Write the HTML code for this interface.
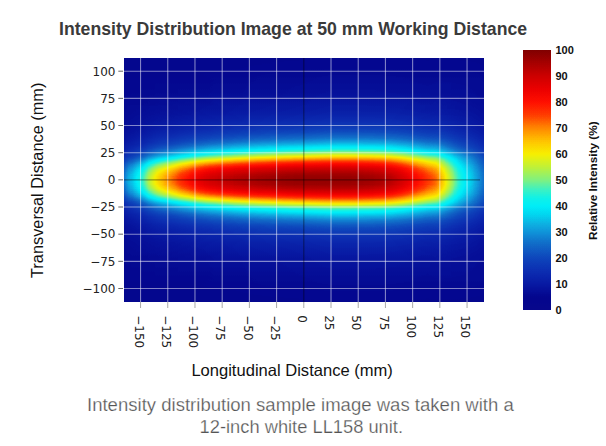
<!DOCTYPE html>
<html><head><meta charset="utf-8">
<style>
html,body{margin:0;padding:0;background:#fff;}
body{width:606px;height:446px;overflow:hidden;position:relative;}
svg{position:absolute;left:0;top:0;}
.t{font-family:"Liberation Sans",Arial,sans-serif;}
</style></head>
<body>
<svg width="606" height="446" viewBox="0 0 606 446">
<defs>
<linearGradient id="hx" gradientUnits="userSpaceOnUse" x1="124" y1="0" x2="484" y2="0"><stop offset="0.0014" stop-color="rgb(47,139,0)"/><stop offset="0.0069" stop-color="rgb(54,156,0)"/><stop offset="0.0125" stop-color="rgb(60,166,0)"/><stop offset="0.0181" stop-color="rgb(64,172,0)"/><stop offset="0.0236" stop-color="rgb(67,177,0)"/><stop offset="0.0292" stop-color="rgb(72,183,0)"/><stop offset="0.0347" stop-color="rgb(77,190,0)"/><stop offset="0.0403" stop-color="rgb(82,195,0)"/><stop offset="0.0458" stop-color="rgb(87,200,0)"/><stop offset="0.0514" stop-color="rgb(92,205,0)"/><stop offset="0.0569" stop-color="rgb(98,212,0)"/><stop offset="0.0625" stop-color="rgb(105,219,0)"/><stop offset="0.0681" stop-color="rgb(113,229,0)"/><stop offset="0.0736" stop-color="rgb(118,235,1)"/><stop offset="0.0792" stop-color="rgb(123,239,2)"/><stop offset="0.0847" stop-color="rgb(128,244,3)"/><stop offset="0.0903" stop-color="rgb(133,249,4)"/><stop offset="0.0958" stop-color="rgb(137,251,5)"/><stop offset="0.1014" stop-color="rgb(141,253,6)"/><stop offset="0.1069" stop-color="rgb(144,254,7)"/><stop offset="0.1125" stop-color="rgb(148,255,8)"/><stop offset="0.1181" stop-color="rgb(151,255,9)"/><stop offset="0.1236" stop-color="rgb(154,255,11)"/><stop offset="0.1292" stop-color="rgb(157,254,12)"/><stop offset="0.1347" stop-color="rgb(161,254,14)"/><stop offset="0.1403" stop-color="rgb(164,253,15)"/><stop offset="0.1458" stop-color="rgb(168,253,17)"/><stop offset="0.1514" stop-color="rgb(172,251,19)"/><stop offset="0.1569" stop-color="rgb(176,249,21)"/><stop offset="0.1625" stop-color="rgb(179,247,23)"/><stop offset="0.1681" stop-color="rgb(182,243,25)"/><stop offset="0.1736" stop-color="rgb(185,240,27)"/><stop offset="0.1792" stop-color="rgb(188,236,29)"/><stop offset="0.1847" stop-color="rgb(192,232,32)"/><stop offset="0.1903" stop-color="rgb(195,228,35)"/><stop offset="0.1958" stop-color="rgb(198,224,37)"/><stop offset="0.2014" stop-color="rgb(201,219,40)"/><stop offset="0.2069" stop-color="rgb(204,214,43)"/><stop offset="0.2125" stop-color="rgb(207,209,46)"/><stop offset="0.2181" stop-color="rgb(209,204,49)"/><stop offset="0.2236" stop-color="rgb(212,199,52)"/><stop offset="0.2292" stop-color="rgb(214,193,55)"/><stop offset="0.2347" stop-color="rgb(216,188,58)"/><stop offset="0.2403" stop-color="rgb(218,183,61)"/><stop offset="0.2458" stop-color="rgb(220,177,64)"/><stop offset="0.2514" stop-color="rgb(221,171,67)"/><stop offset="0.2569" stop-color="rgb(223,166,70)"/><stop offset="0.2625" stop-color="rgb(225,160,74)"/><stop offset="0.2681" stop-color="rgb(226,154,77)"/><stop offset="0.2736" stop-color="rgb(228,148,81)"/><stop offset="0.2792" stop-color="rgb(229,143,84)"/><stop offset="0.2847" stop-color="rgb(231,137,88)"/><stop offset="0.2903" stop-color="rgb(232,132,92)"/><stop offset="0.2958" stop-color="rgb(233,127,95)"/><stop offset="0.3014" stop-color="rgb(234,122,99)"/><stop offset="0.3069" stop-color="rgb(236,117,103)"/><stop offset="0.3125" stop-color="rgb(237,112,107)"/><stop offset="0.3181" stop-color="rgb(238,108,110)"/><stop offset="0.3236" stop-color="rgb(239,104,114)"/><stop offset="0.3292" stop-color="rgb(240,100,118)"/><stop offset="0.3347" stop-color="rgb(241,97,121)"/><stop offset="0.3403" stop-color="rgb(242,94,125)"/><stop offset="0.3458" stop-color="rgb(243,91,128)"/><stop offset="0.3514" stop-color="rgb(244,88,131)"/><stop offset="0.3569" stop-color="rgb(244,86,135)"/><stop offset="0.3625" stop-color="rgb(245,83,138)"/><stop offset="0.3681" stop-color="rgb(246,81,141)"/><stop offset="0.3736" stop-color="rgb(247,79,144)"/><stop offset="0.3792" stop-color="rgb(247,77,147)"/><stop offset="0.3847" stop-color="rgb(248,76,150)"/><stop offset="0.3903" stop-color="rgb(248,74,152)"/><stop offset="0.3958" stop-color="rgb(249,72,155)"/><stop offset="0.4014" stop-color="rgb(249,71,158)"/><stop offset="0.4069" stop-color="rgb(250,70,161)"/><stop offset="0.4125" stop-color="rgb(251,68,164)"/><stop offset="0.4181" stop-color="rgb(251,67,166)"/><stop offset="0.4236" stop-color="rgb(252,66,169)"/><stop offset="0.4292" stop-color="rgb(252,65,172)"/><stop offset="0.4347" stop-color="rgb(252,64,174)"/><stop offset="0.4403" stop-color="rgb(253,63,177)"/><stop offset="0.4458" stop-color="rgb(253,62,180)"/><stop offset="0.4514" stop-color="rgb(254,61,182)"/><stop offset="0.4569" stop-color="rgb(254,61,185)"/><stop offset="0.4625" stop-color="rgb(254,60,188)"/><stop offset="0.4681" stop-color="rgb(254,59,190)"/><stop offset="0.4736" stop-color="rgb(255,59,193)"/><stop offset="0.4792" stop-color="rgb(255,58,196)"/><stop offset="0.4847" stop-color="rgb(255,58,198)"/><stop offset="0.4903" stop-color="rgb(255,57,201)"/><stop offset="0.4958" stop-color="rgb(255,57,204)"/><stop offset="0.5014" stop-color="rgb(255,57,207)"/><stop offset="0.5069" stop-color="rgb(255,57,210)"/><stop offset="0.5125" stop-color="rgb(255,56,214)"/><stop offset="0.5181" stop-color="rgb(255,56,217)"/><stop offset="0.5236" stop-color="rgb(255,56,221)"/><stop offset="0.5292" stop-color="rgb(255,57,224)"/><stop offset="0.5347" stop-color="rgb(255,57,228)"/><stop offset="0.5403" stop-color="rgb(255,57,232)"/><stop offset="0.5458" stop-color="rgb(255,58,235)"/><stop offset="0.5514" stop-color="rgb(255,58,238)"/><stop offset="0.5569" stop-color="rgb(255,59,242)"/><stop offset="0.5625" stop-color="rgb(255,60,244)"/><stop offset="0.5681" stop-color="rgb(255,60,247)"/><stop offset="0.5736" stop-color="rgb(255,61,249)"/><stop offset="0.5792" stop-color="rgb(254,61,251)"/><stop offset="0.5847" stop-color="rgb(254,62,253)"/><stop offset="0.5903" stop-color="rgb(254,62,254)"/><stop offset="0.5958" stop-color="rgb(254,62,255)"/><stop offset="0.6014" stop-color="rgb(254,62,255)"/><stop offset="0.6069" stop-color="rgb(254,62,255)"/><stop offset="0.6125" stop-color="rgb(254,62,255)"/><stop offset="0.6181" stop-color="rgb(254,62,255)"/><stop offset="0.6236" stop-color="rgb(254,62,255)"/><stop offset="0.6292" stop-color="rgb(254,62,254)"/><stop offset="0.6347" stop-color="rgb(253,62,254)"/><stop offset="0.6403" stop-color="rgb(253,62,254)"/><stop offset="0.6458" stop-color="rgb(253,62,253)"/><stop offset="0.6514" stop-color="rgb(253,62,253)"/><stop offset="0.6569" stop-color="rgb(252,62,253)"/><stop offset="0.6625" stop-color="rgb(252,62,252)"/><stop offset="0.6681" stop-color="rgb(251,62,252)"/><stop offset="0.6736" stop-color="rgb(251,61,252)"/><stop offset="0.6792" stop-color="rgb(251,61,251)"/><stop offset="0.6847" stop-color="rgb(250,61,251)"/><stop offset="0.6903" stop-color="rgb(250,61,250)"/><stop offset="0.6958" stop-color="rgb(249,61,250)"/><stop offset="0.7014" stop-color="rgb(248,61,249)"/><stop offset="0.7069" stop-color="rgb(248,61,248)"/><stop offset="0.7125" stop-color="rgb(247,60,248)"/><stop offset="0.7181" stop-color="rgb(246,60,247)"/><stop offset="0.7236" stop-color="rgb(245,60,246)"/><stop offset="0.7292" stop-color="rgb(244,60,245)"/><stop offset="0.7347" stop-color="rgb(243,59,243)"/><stop offset="0.7403" stop-color="rgb(242,59,242)"/><stop offset="0.7458" stop-color="rgb(240,59,241)"/><stop offset="0.7514" stop-color="rgb(238,58,239)"/><stop offset="0.7569" stop-color="rgb(236,58,237)"/><stop offset="0.7625" stop-color="rgb(234,57,235)"/><stop offset="0.7681" stop-color="rgb(232,57,232)"/><stop offset="0.7736" stop-color="rgb(230,56,230)"/><stop offset="0.7792" stop-color="rgb(227,56,228)"/><stop offset="0.7847" stop-color="rgb(225,55,225)"/><stop offset="0.7903" stop-color="rgb(222,54,223)"/><stop offset="0.7958" stop-color="rgb(219,54,220)"/><stop offset="0.8014" stop-color="rgb(216,53,217)"/><stop offset="0.8069" stop-color="rgb(213,52,214)"/><stop offset="0.8125" stop-color="rgb(211,52,211)"/><stop offset="0.8181" stop-color="rgb(208,51,208)"/><stop offset="0.8236" stop-color="rgb(205,50,206)"/><stop offset="0.8292" stop-color="rgb(203,50,203)"/><stop offset="0.8347" stop-color="rgb(200,49,201)"/><stop offset="0.8403" stop-color="rgb(197,49,199)"/><stop offset="0.8458" stop-color="rgb(194,49,199)"/><stop offset="0.8514" stop-color="rgb(192,50,201)"/><stop offset="0.8569" stop-color="rgb(189,52,205)"/><stop offset="0.8625" stop-color="rgb(186,55,210)"/><stop offset="0.8681" stop-color="rgb(182,58,215)"/><stop offset="0.8736" stop-color="rgb(175,62,217)"/><stop offset="0.8792" stop-color="rgb(167,65,217)"/><stop offset="0.8847" stop-color="rgb(160,69,217)"/><stop offset="0.8903" stop-color="rgb(153,72,216)"/><stop offset="0.8958" stop-color="rgb(145,75,214)"/><stop offset="0.9014" stop-color="rgb(138,79,213)"/><stop offset="0.9069" stop-color="rgb(131,83,211)"/><stop offset="0.9125" stop-color="rgb(124,87,209)"/><stop offset="0.9181" stop-color="rgb(116,91,206)"/><stop offset="0.9236" stop-color="rgb(110,95,203)"/><stop offset="0.9292" stop-color="rgb(103,98,201)"/><stop offset="0.9347" stop-color="rgb(98,101,198)"/><stop offset="0.9403" stop-color="rgb(93,104,195)"/><stop offset="0.9458" stop-color="rgb(88,107,193)"/><stop offset="0.9514" stop-color="rgb(84,108,189)"/><stop offset="0.9569" stop-color="rgb(80,109,186)"/><stop offset="0.9625" stop-color="rgb(76,109,181)"/><stop offset="0.9681" stop-color="rgb(72,108,175)"/><stop offset="0.9736" stop-color="rgb(67,107,169)"/><stop offset="0.9792" stop-color="rgb(63,104,162)"/><stop offset="0.9847" stop-color="rgb(59,101,154)"/><stop offset="0.9903" stop-color="rgb(55,98,146)"/><stop offset="0.9958" stop-color="rgb(51,94,139)"/><stop offset="0.9986" stop-color="rgb(49,92,135)"/></linearGradient><linearGradient id="hy" gradientUnits="userSpaceOnUse" x1="0" y1="58" x2="0" y2="302"><stop offset="0.0020" stop-color="rgb(0,0,7)"/><stop offset="0.0102" stop-color="rgb(0,0,9)"/><stop offset="0.0184" stop-color="rgb(0,0,11)"/><stop offset="0.0266" stop-color="rgb(0,0,12)"/><stop offset="0.0348" stop-color="rgb(0,0,14)"/><stop offset="0.0430" stop-color="rgb(0,0,16)"/><stop offset="0.0512" stop-color="rgb(0,1,19)"/><stop offset="0.0594" stop-color="rgb(0,1,22)"/><stop offset="0.0676" stop-color="rgb(0,2,25)"/><stop offset="0.0758" stop-color="rgb(0,1,27)"/><stop offset="0.0840" stop-color="rgb(1,1,29)"/><stop offset="0.0922" stop-color="rgb(1,0,31)"/><stop offset="0.1004" stop-color="rgb(1,0,33)"/><stop offset="0.1086" stop-color="rgb(2,0,35)"/><stop offset="0.1168" stop-color="rgb(2,0,37)"/><stop offset="0.1250" stop-color="rgb(2,0,38)"/><stop offset="0.1332" stop-color="rgb(3,0,40)"/><stop offset="0.1414" stop-color="rgb(3,0,41)"/><stop offset="0.1496" stop-color="rgb(4,0,43)"/><stop offset="0.1578" stop-color="rgb(5,0,45)"/><stop offset="0.1660" stop-color="rgb(5,0,46)"/><stop offset="0.1742" stop-color="rgb(6,0,48)"/><stop offset="0.1824" stop-color="rgb(7,0,50)"/><stop offset="0.1906" stop-color="rgb(8,0,52)"/><stop offset="0.1988" stop-color="rgb(9,2,55)"/><stop offset="0.2070" stop-color="rgb(9,3,58)"/><stop offset="0.2152" stop-color="rgb(10,4,62)"/><stop offset="0.2234" stop-color="rgb(11,5,66)"/><stop offset="0.2316" stop-color="rgb(12,5,71)"/><stop offset="0.2398" stop-color="rgb(14,5,76)"/><stop offset="0.2480" stop-color="rgb(15,5,81)"/><stop offset="0.2561" stop-color="rgb(17,5,85)"/><stop offset="0.2643" stop-color="rgb(19,6,91)"/><stop offset="0.2725" stop-color="rgb(21,8,97)"/><stop offset="0.2807" stop-color="rgb(23,10,105)"/><stop offset="0.2889" stop-color="rgb(25,11,113)"/><stop offset="0.2971" stop-color="rgb(28,12,122)"/><stop offset="0.3053" stop-color="rgb(31,13,131)"/><stop offset="0.3135" stop-color="rgb(35,14,141)"/><stop offset="0.3217" stop-color="rgb(39,16,151)"/><stop offset="0.3299" stop-color="rgb(43,19,162)"/><stop offset="0.3381" stop-color="rgb(49,22,177)"/><stop offset="0.3463" stop-color="rgb(55,22,190)"/><stop offset="0.3545" stop-color="rgb(63,20,197)"/><stop offset="0.3627" stop-color="rgb(72,24,201)"/><stop offset="0.3709" stop-color="rgb(80,35,210)"/><stop offset="0.3791" stop-color="rgb(90,48,225)"/><stop offset="0.3873" stop-color="rgb(101,55,245)"/><stop offset="0.3955" stop-color="rgb(115,55,255)"/><stop offset="0.4037" stop-color="rgb(132,55,249)"/><stop offset="0.4119" stop-color="rgb(152,67,219)"/><stop offset="0.4201" stop-color="rgb(170,94,188)"/><stop offset="0.4283" stop-color="rgb(188,119,144)"/><stop offset="0.4365" stop-color="rgb(202,155,114)"/><stop offset="0.4447" stop-color="rgb(215,178,89)"/><stop offset="0.4529" stop-color="rgb(227,197,64)"/><stop offset="0.4611" stop-color="rgb(236,218,40)"/><stop offset="0.4693" stop-color="rgb(243,233,25)"/><stop offset="0.4775" stop-color="rgb(249,242,14)"/><stop offset="0.4857" stop-color="rgb(253,251,4)"/><stop offset="0.4939" stop-color="rgb(255,254,1)"/><stop offset="0.5020" stop-color="rgb(255,255,0)"/><stop offset="0.5102" stop-color="rgb(253,252,3)"/><stop offset="0.5184" stop-color="rgb(251,246,10)"/><stop offset="0.5266" stop-color="rgb(245,237,21)"/><stop offset="0.5348" stop-color="rgb(239,223,34)"/><stop offset="0.5430" stop-color="rgb(230,205,54)"/><stop offset="0.5512" stop-color="rgb(219,186,81)"/><stop offset="0.5594" stop-color="rgb(207,164,105)"/><stop offset="0.5676" stop-color="rgb(193,133,131)"/><stop offset="0.5758" stop-color="rgb(176,101,173)"/><stop offset="0.5840" stop-color="rgb(158,76,208)"/><stop offset="0.5922" stop-color="rgb(139,57,241)"/><stop offset="0.6004" stop-color="rgb(121,54,254)"/><stop offset="0.6086" stop-color="rgb(105,55,251)"/><stop offset="0.6168" stop-color="rgb(93,51,232)"/><stop offset="0.6250" stop-color="rgb(83,40,215)"/><stop offset="0.6332" stop-color="rgb(75,27,203)"/><stop offset="0.6414" stop-color="rgb(66,20,199)"/><stop offset="0.6496" stop-color="rgb(58,21,193)"/><stop offset="0.6578" stop-color="rgb(51,23,183)"/><stop offset="0.6660" stop-color="rgb(45,21,167)"/><stop offset="0.6742" stop-color="rgb(41,17,155)"/><stop offset="0.6824" stop-color="rgb(36,14,144)"/><stop offset="0.6906" stop-color="rgb(32,13,135)"/><stop offset="0.6988" stop-color="rgb(29,12,125)"/><stop offset="0.7070" stop-color="rgb(26,12,116)"/><stop offset="0.7152" stop-color="rgb(24,10,108)"/><stop offset="0.7234" stop-color="rgb(21,9,100)"/><stop offset="0.7316" stop-color="rgb(19,7,93)"/><stop offset="0.7398" stop-color="rgb(18,5,87)"/><stop offset="0.7480" stop-color="rgb(16,5,82)"/><stop offset="0.7561" stop-color="rgb(14,5,78)"/><stop offset="0.7643" stop-color="rgb(13,5,73)"/><stop offset="0.7725" stop-color="rgb(12,5,68)"/><stop offset="0.7807" stop-color="rgb(11,4,63)"/><stop offset="0.7889" stop-color="rgb(10,3,59)"/><stop offset="0.7971" stop-color="rgb(9,2,56)"/><stop offset="0.8053" stop-color="rgb(8,1,53)"/><stop offset="0.8135" stop-color="rgb(7,0,50)"/><stop offset="0.8217" stop-color="rgb(6,0,48)"/><stop offset="0.8299" stop-color="rgb(6,0,47)"/><stop offset="0.8381" stop-color="rgb(5,0,45)"/><stop offset="0.8463" stop-color="rgb(4,0,43)"/><stop offset="0.8545" stop-color="rgb(4,0,42)"/><stop offset="0.8627" stop-color="rgb(3,0,40)"/><stop offset="0.8709" stop-color="rgb(3,0,39)"/><stop offset="0.8791" stop-color="rgb(2,0,37)"/><stop offset="0.8873" stop-color="rgb(2,0,36)"/><stop offset="0.8955" stop-color="rgb(1,0,34)"/><stop offset="0.9037" stop-color="rgb(1,0,32)"/><stop offset="0.9119" stop-color="rgb(1,1,30)"/><stop offset="0.9201" stop-color="rgb(0,1,28)"/><stop offset="0.9283" stop-color="rgb(0,2,26)"/><stop offset="0.9365" stop-color="rgb(0,2,23)"/><stop offset="0.9447" stop-color="rgb(0,1,20)"/><stop offset="0.9529" stop-color="rgb(0,0,17)"/><stop offset="0.9611" stop-color="rgb(0,0,15)"/><stop offset="0.9693" stop-color="rgb(0,0,13)"/><stop offset="0.9775" stop-color="rgb(0,0,11)"/><stop offset="0.9857" stop-color="rgb(0,0,9)"/><stop offset="0.9939" stop-color="rgb(0,0,8)"/><stop offset="0.9980" stop-color="rgb(0,0,7)"/></linearGradient><filter id="heatf" color-interpolation-filters="sRGB" x="0" y="0" width="1" height="1"><feColorMatrix type="matrix" values="0.9033 0.0975 0.1035 0 0.0500 0.9033 0.0975 0.1035 0 0.0500 0.9033 0.0975 0.1035 0 0.0500 0 0 0 1 0"/><feComponentTransfer><feFuncR type="table" tableValues="0.031 0.029 0.026 0.024 0.022 0.019 0.017 0.017 0.020 0.022 0.025 0.027 0.029 0.032 0.034 0.037 0.039 0.042 0.044 0.047 0.048 0.049 0.050 0.052 0.053 0.054 0.056 0.057 0.059 0.061 0.063 0.063 0.063 0.063 0.063 0.063 0.063 0.063 0.062 0.061 0.059 0.057 0.055 0.047 0.037 0.027 0.018 0.008 0.006 0.004 0.002 0.000 0.013 0.029 0.046 0.062 0.103 0.145 0.187 0.229 0.278 0.334 0.390 0.446 0.502 0.541 0.580 0.620 0.659 0.698 0.737 0.774 0.808 0.842 0.876 0.911 0.945 0.973 0.978 0.982 0.986 0.991 0.995 0.999 1.000 1.000 1.000 1.000 1.000 1.000 1.000 1.000 1.000 1.000 1.000 1.000 1.000 1.000 1.000 1.000 1.000 1.000 1.000 0.993 0.980 0.968 0.956 0.944 0.931 0.918 0.900 0.881 0.863 0.844 0.826 0.808 0.785 0.761 0.738 0.714 0.691 0.667 0.644 0.620 0.596 0.573 0.549 0.526 0.502"/><feFuncG type="table" tableValues="0.031 0.030 0.029 0.028 0.026 0.025 0.024 0.031 0.043 0.055 0.068 0.080 0.092 0.104 0.117 0.129 0.141 0.153 0.166 0.178 0.192 0.207 0.222 0.236 0.251 0.266 0.283 0.304 0.325 0.346 0.367 0.389 0.411 0.433 0.459 0.487 0.515 0.543 0.571 0.599 0.627 0.655 0.683 0.714 0.746 0.777 0.809 0.840 0.862 0.884 0.907 0.929 0.936 0.939 0.942 0.945 0.946 0.947 0.948 0.949 0.949 0.949 0.949 0.949 0.949 0.949 0.949 0.949 0.949 0.949 0.949 0.948 0.947 0.946 0.945 0.943 0.942 0.936 0.908 0.881 0.853 0.825 0.798 0.770 0.735 0.699 0.662 0.625 0.588 0.551 0.511 0.465 0.419 0.373 0.327 0.281 0.235 0.208 0.180 0.153 0.125 0.097 0.070 0.053 0.044 0.035 0.026 0.017 0.007 0.000 0.000 0.000 0.000 0.000 0.000 0.000 0.000 0.000 0.000 0.000 0.000 0.000 0.000 0.000 0.000 0.000 0.000 0.000 0.000"/><feFuncB type="table" tableValues="0.549 0.550 0.551 0.553 0.554 0.555 0.556 0.565 0.578 0.592 0.605 0.619 0.632 0.645 0.653 0.662 0.671 0.679 0.688 0.696 0.703 0.709 0.715 0.721 0.727 0.734 0.740 0.747 0.754 0.761 0.768 0.775 0.783 0.790 0.801 0.813 0.825 0.838 0.849 0.858 0.867 0.875 0.884 0.895 0.907 0.918 0.930 0.941 0.949 0.956 0.964 0.971 0.959 0.943 0.927 0.910 0.876 0.841 0.806 0.771 0.726 0.670 0.614 0.558 0.502 0.458 0.414 0.370 0.325 0.281 0.237 0.199 0.165 0.130 0.096 0.062 0.027 0.000 0.000 0.000 0.000 0.000 0.000 0.000 0.000 0.000 0.000 0.000 0.000 0.000 0.000 0.000 0.000 0.000 0.000 0.000 0.000 0.000 0.000 0.000 0.000 0.000 0.000 0.000 0.000 0.000 0.000 0.000 0.000 0.000 0.000 0.000 0.000 0.000 0.000 0.000 0.000 0.000 0.000 0.000 0.000 0.000 0.000 0.000 0.000 0.000 0.000 0.000 0.000"/></feComponentTransfer></filter>
<linearGradient id="cbg" x1="0" y1="1" x2="0" y2="0"><stop offset="0" stop-color="#000"/><stop offset="1" stop-color="#fff"/></linearGradient>
<filter id="jetc" color-interpolation-filters="sRGB" x="0" y="0" width="1" height="1">
<feComponentTransfer><feFuncR type="table" tableValues="0.031 0.029 0.026 0.024 0.022 0.019 0.017 0.017 0.020 0.022 0.025 0.027 0.029 0.032 0.034 0.037 0.039 0.042 0.044 0.047 0.048 0.049 0.050 0.052 0.053 0.054 0.056 0.057 0.059 0.061 0.063 0.063 0.063 0.063 0.063 0.063 0.063 0.063 0.062 0.061 0.059 0.057 0.055 0.047 0.037 0.027 0.018 0.008 0.006 0.004 0.002 0.000 0.013 0.029 0.046 0.062 0.103 0.145 0.187 0.229 0.278 0.334 0.390 0.446 0.502 0.541 0.580 0.620 0.659 0.698 0.737 0.774 0.808 0.842 0.876 0.911 0.945 0.973 0.978 0.982 0.986 0.991 0.995 0.999 1.000 1.000 1.000 1.000 1.000 1.000 1.000 1.000 1.000 1.000 1.000 1.000 1.000 1.000 1.000 1.000 1.000 1.000 1.000 0.993 0.980 0.968 0.956 0.944 0.931 0.918 0.900 0.881 0.863 0.844 0.826 0.808 0.785 0.761 0.738 0.714 0.691 0.667 0.644 0.620 0.596 0.573 0.549 0.526 0.502"/><feFuncG type="table" tableValues="0.031 0.030 0.029 0.028 0.026 0.025 0.024 0.031 0.043 0.055 0.068 0.080 0.092 0.104 0.117 0.129 0.141 0.153 0.166 0.178 0.192 0.207 0.222 0.236 0.251 0.266 0.283 0.304 0.325 0.346 0.367 0.389 0.411 0.433 0.459 0.487 0.515 0.543 0.571 0.599 0.627 0.655 0.683 0.714 0.746 0.777 0.809 0.840 0.862 0.884 0.907 0.929 0.936 0.939 0.942 0.945 0.946 0.947 0.948 0.949 0.949 0.949 0.949 0.949 0.949 0.949 0.949 0.949 0.949 0.949 0.949 0.948 0.947 0.946 0.945 0.943 0.942 0.936 0.908 0.881 0.853 0.825 0.798 0.770 0.735 0.699 0.662 0.625 0.588 0.551 0.511 0.465 0.419 0.373 0.327 0.281 0.235 0.208 0.180 0.153 0.125 0.097 0.070 0.053 0.044 0.035 0.026 0.017 0.007 0.000 0.000 0.000 0.000 0.000 0.000 0.000 0.000 0.000 0.000 0.000 0.000 0.000 0.000 0.000 0.000 0.000 0.000 0.000 0.000"/><feFuncB type="table" tableValues="0.549 0.550 0.551 0.553 0.554 0.555 0.556 0.565 0.578 0.592 0.605 0.619 0.632 0.645 0.653 0.662 0.671 0.679 0.688 0.696 0.703 0.709 0.715 0.721 0.727 0.734 0.740 0.747 0.754 0.761 0.768 0.775 0.783 0.790 0.801 0.813 0.825 0.838 0.849 0.858 0.867 0.875 0.884 0.895 0.907 0.918 0.930 0.941 0.949 0.956 0.964 0.971 0.959 0.943 0.927 0.910 0.876 0.841 0.806 0.771 0.726 0.670 0.614 0.558 0.502 0.458 0.414 0.370 0.325 0.281 0.237 0.199 0.165 0.130 0.096 0.062 0.027 0.000 0.000 0.000 0.000 0.000 0.000 0.000 0.000 0.000 0.000 0.000 0.000 0.000 0.000 0.000 0.000 0.000 0.000 0.000 0.000 0.000 0.000 0.000 0.000 0.000 0.000 0.000 0.000 0.000 0.000 0.000 0.000 0.000 0.000 0.000 0.000 0.000 0.000 0.000 0.000 0.000 0.000 0.000 0.000 0.000 0.000 0.000 0.000 0.000 0.000 0.000 0.000"/></feComponentTransfer>
</filter>
</defs>
<g filter="url(#heatf)"><rect x="124" y="58" width="360" height="244" fill="url(#hx)"/><rect x="124" y="58" width="360" height="244" fill="url(#hy)" style="mix-blend-mode:multiply"/></g>
<g stroke="#fff" stroke-opacity="0.5" stroke-width="1.1"><line x1="140.55" y1="58" x2="140.55" y2="302"/><line x1="167.76" y1="58" x2="167.76" y2="302"/><line x1="194.97" y1="58" x2="194.97" y2="302"/><line x1="222.18" y1="58" x2="222.18" y2="302"/><line x1="249.38" y1="58" x2="249.38" y2="302"/><line x1="276.59" y1="58" x2="276.59" y2="302"/><line x1="331.01" y1="58" x2="331.01" y2="302"/><line x1="358.22" y1="58" x2="358.22" y2="302"/><line x1="385.43" y1="58" x2="385.43" y2="302"/><line x1="412.63" y1="58" x2="412.63" y2="302"/><line x1="439.84" y1="58" x2="439.84" y2="302"/><line x1="467.05" y1="58" x2="467.05" y2="302"/><line x1="124" y1="288.50" x2="484" y2="288.50"/><line x1="124" y1="261.34" x2="484" y2="261.34"/><line x1="124" y1="234.18" x2="484" y2="234.18"/><line x1="124" y1="207.01" x2="484" y2="207.01"/><line x1="124" y1="152.69" x2="484" y2="152.69"/><line x1="124" y1="125.52" x2="484" y2="125.52"/><line x1="124" y1="98.36" x2="484" y2="98.36"/><line x1="124" y1="71.20" x2="484" y2="71.20"/></g>
<g stroke="#000" stroke-opacity="0.38" stroke-width="1.2">
<line x1="124" y1="179.85" x2="480" y2="179.85"/>
<line x1="303.8" y1="58" x2="303.8" y2="302"/>
</g>
<g stroke-width="1"><line x1="140.55" y1="302" x2="140.55" y2="308" stroke="#aaa"/><line x1="167.76" y1="302" x2="167.76" y2="308" stroke="#aaa"/><line x1="194.97" y1="302" x2="194.97" y2="308" stroke="#aaa"/><line x1="222.18" y1="302" x2="222.18" y2="308" stroke="#aaa"/><line x1="249.38" y1="302" x2="249.38" y2="308" stroke="#aaa"/><line x1="276.59" y1="302" x2="276.59" y2="308" stroke="#aaa"/><line x1="303.80" y1="302" x2="303.80" y2="308" stroke="#aaa"/><line x1="331.01" y1="302" x2="331.01" y2="308" stroke="#aaa"/><line x1="358.22" y1="302" x2="358.22" y2="308" stroke="#aaa"/><line x1="385.43" y1="302" x2="385.43" y2="308" stroke="#aaa"/><line x1="412.63" y1="302" x2="412.63" y2="308" stroke="#aaa"/><line x1="439.84" y1="302" x2="439.84" y2="308" stroke="#aaa"/><line x1="467.05" y1="302" x2="467.05" y2="308" stroke="#aaa"/><line x1="118.3" y1="288.50" x2="123" y2="288.50" stroke="#666"/><line x1="118.3" y1="261.34" x2="123" y2="261.34" stroke="#666"/><line x1="118.3" y1="234.18" x2="123" y2="234.18" stroke="#666"/><line x1="118.3" y1="207.01" x2="123" y2="207.01" stroke="#666"/><line x1="118.3" y1="179.85" x2="123" y2="179.85" stroke="#666"/><line x1="118.3" y1="152.69" x2="123" y2="152.69" stroke="#666"/><line x1="118.3" y1="125.52" x2="123" y2="125.52" stroke="#666"/><line x1="118.3" y1="98.36" x2="123" y2="98.36" stroke="#666"/><line x1="118.3" y1="71.20" x2="123" y2="71.20" stroke="#666"/></g>
<g font-family="DejaVu Sans, sans-serif" font-size="12" fill="#222" text-anchor="end"><text x="115.5" y="292.80">−100</text><text x="115.5" y="265.64">−75</text><text x="115.5" y="238.48">−50</text><text x="115.5" y="211.31">−25</text><text x="115.5" y="184.15">0</text><text x="115.5" y="156.99">25</text><text x="115.5" y="129.82">50</text><text x="115.5" y="102.66">75</text><text x="115.5" y="75.50">100</text></g>
<g font-family="DejaVu Sans, sans-serif" font-size="12" fill="#222"><text transform="translate(134.75,315.2) rotate(90)" x="0" y="0">−150</text><text transform="translate(161.96,315.2) rotate(90)" x="0" y="0">−125</text><text transform="translate(189.17,315.2) rotate(90)" x="0" y="0">−100</text><text transform="translate(216.38,315.2) rotate(90)" x="0" y="0">−75</text><text transform="translate(243.58,315.2) rotate(90)" x="0" y="0">−50</text><text transform="translate(270.79,315.2) rotate(90)" x="0" y="0">−25</text><text transform="translate(298.00,315.2) rotate(90)" x="0" y="0">0</text><text transform="translate(325.21,315.2) rotate(90)" x="0" y="0">25</text><text transform="translate(352.42,315.2) rotate(90)" x="0" y="0">50</text><text transform="translate(379.62,315.2) rotate(90)" x="0" y="0">75</text><text transform="translate(406.83,315.2) rotate(90)" x="0" y="0">100</text><text transform="translate(434.04,315.2) rotate(90)" x="0" y="0">125</text><text transform="translate(461.25,315.2) rotate(90)" x="0" y="0">150</text></g>
<rect x="523" y="50" width="28" height="260" fill="url(#cbg)" filter="url(#jetc)"/>
<g font-family="Liberation Sans, Arial, sans-serif" font-weight="bold" font-size="11" fill="#111"><text x="555.5" y="314.00">0</text><text x="555.5" y="288.00">10</text><text x="555.5" y="262.00">20</text><text x="555.5" y="236.00">30</text><text x="555.5" y="210.00">40</text><text x="555.5" y="184.00">50</text><text x="555.5" y="158.00">60</text><text x="555.5" y="132.00">70</text><text x="555.5" y="106.00">80</text><text x="555.5" y="80.00">90</text><text x="555.5" y="54.00">100</text></g>
<text x="0" y="0" font-family="Liberation Sans, Arial, sans-serif" font-size="11.5" fill="#111" font-weight="bold" textLength="118.7" lengthAdjust="spacingAndGlyphs" transform="translate(597,240) rotate(-90)">Relative Intensity (%)</text>
<text x="0" y="0" font-family="Liberation Sans, Arial, sans-serif" font-size="16.5" fill="#111" textLength="195.4" lengthAdjust="spacingAndGlyphs" transform="translate(43,278) rotate(-90)">Transversal Distance (mm)</text>
<text x="191.4" y="375.8" font-family="Liberation Sans, Arial, sans-serif" font-size="16.5" fill="#111" textLength="201.4" lengthAdjust="spacingAndGlyphs">Longitudinal Distance (mm)</text>
<text x="59" y="34.9" font-family="Liberation Sans, Arial, sans-serif" font-size="18.4" fill="#3a3a3a" font-weight="bold" textLength="468.1" lengthAdjust="spacingAndGlyphs">Intensity Distribution Image at 50 mm Working Distance</text>
<text x="87" y="410.8" font-family="Liberation Sans, Arial, sans-serif" font-size="18" fill="#555" stroke="#fff" stroke-width="0.25" textLength="426.8" lengthAdjust="spacingAndGlyphs">Intensity distribution sample image was taken with a</text>
<text x="199.6" y="433.1" font-family="Liberation Sans, Arial, sans-serif" font-size="18" fill="#555" stroke="#fff" stroke-width="0.25" textLength="203.4" lengthAdjust="spacingAndGlyphs">12-inch white LL158 unit.</text>
</svg>
</body></html>
